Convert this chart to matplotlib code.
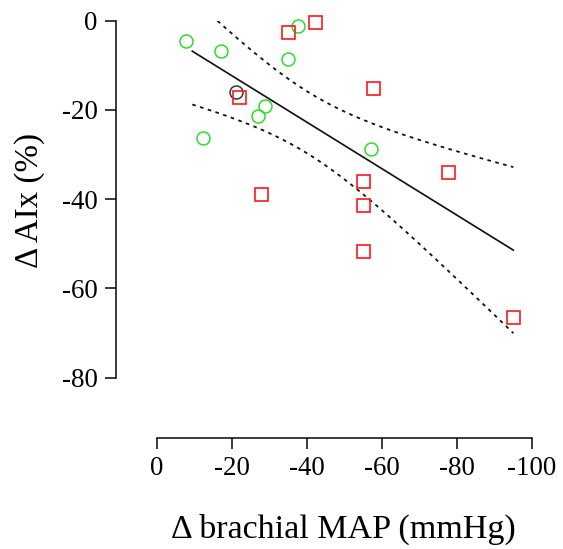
import numpy as np
import matplotlib
matplotlib.use("Agg")
import matplotlib.pyplot as plt

# values
green_x = [-7.8, -17.2, -12.4, -37.8, -35.1, -28.9, -27.1, -57.1]
green_y = [-4.5, -6.7, -26.3, -1.2, -8.6, -19.2, -21.3, -28.7]
black_x = [-21.1]
black_y = [-16.0]
red_x = [-42.2, -34.9, -22.0, -57.8, -77.8, -54.9, -54.9, -27.8, -54.9, -94.9]
red_y = [-0.2, -2.6, -17.0, -15.1, -33.8, -36.0, -41.2, -38.8, -51.5, -66.4]
fit_range = [-9.5, -95.1]

xticks = [0, -20, -40, -60, -80, -100]
yticks = [0, -20, -40, -60, -80]

plt.rcParams["font.family"] = ["Liberation Serif", "DejaVu Serif"]
plt.rcParams["axes.unicode_minus"] = False

fig = plt.figure(figsize=(563 / 72, 549 / 72), dpi=72)
ax = fig.add_axes([156.7 / 563, 1 - 377.7 / 549, 375 / 563, 357 / 549])

# linear fit with 95% confidence band, all points
x_all = np.array(green_x + black_x + red_x)
y_all = np.array(green_y + black_y + red_y)
n = len(x_all)
slope, icept = np.polyfit(x_all, y_all, 1)
resid = y_all - (slope * x_all + icept)
s = np.sqrt(np.sum(resid ** 2) / (n - 2))
sxx = np.sum((x_all - x_all.mean()) ** 2)
t = 2.11
xs = np.linspace(fit_range[0], fit_range[1], 100)
ys = slope * xs + icept
half = t * s * np.sqrt(1 / n + (xs - x_all.mean()) ** 2 / sxx)

ax.plot(xs, ys, color="#111111", lw=1.7)
ax.plot(xs, ys + half, color="#111111", lw=1.8, ls=(0, (2, 2.5)))
ax.plot(xs, ys - half, color="#111111", lw=1.8, ls=(0, (2, 2.5)))

ax.plot(green_x, green_y, "o", ms=13, mfc="none", mec="#28dc28", mew=1.5, clip_on=False)
ax.plot(black_x, black_y, "o", ms=13, mfc="none", mec="#333333", mew=1.5, clip_on=False)
ax.plot(red_x, red_y, "s", ms=13, mfc="none", mec="#ff1e1e", mew=1.7, clip_on=False)

ax.set_xlim(0, -100)
ax.set_ylim(-80, 0)
ax.set_xticks(xticks)
ax.set_yticks(yticks)

for side in ["top", "right"]:
    ax.spines[side].set_visible(False)
ax.spines["left"].set_position(("outward", 41))
ax.spines["bottom"].set_position(("outward", 60))
ax.spines["left"].set_linewidth(1.5)
ax.spines["bottom"].set_linewidth(1.5)
ax.tick_params(direction="out", length=11, width=1.5, labelsize=27, pad=7)

ax.set_xlabel("Δ brachial MAP (mmHg)", fontsize=34)
ax.set_ylabel("Δ AIx (%)", fontsize=33)
ax.xaxis.set_label_coords((343.5 - 156.7) / 375, (549 - 529 - 171.3) / 357)
ax.yaxis.set_label_coords((30 - 156.7) / 375, (549 - 200 - 171.3) / 357)
ax.xaxis.label.set_va("center")
ax.yaxis.label.set_va("center")

fig.savefig("out.png", dpi=72)
